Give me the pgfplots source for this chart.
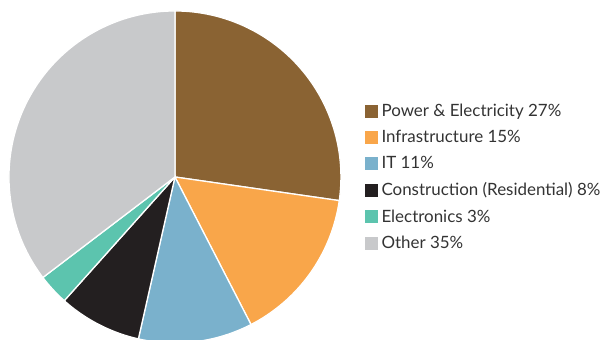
\documentclass[border=0pt]{standalone}
\usepackage{pgfplots}
\pgfplotsset{compat=1.18}
\usepackage{fontspec}
\setmainfont{Lato}
\definecolor{cPow}{HTML}{8A6333}
\definecolor{cInf}{HTML}{F9A64A}
\definecolor{cIT}{HTML}{7AB1CC}
\definecolor{cCon}{HTML}{231F20}
\definecolor{cEle}{HTML}{5CC4AE}
\definecolor{cOth}{HTML}{C8C9CB}
\definecolor{cTxt}{HTML}{333333}
% shares in percent
\def\vPow{27}\def\vInf{15}\def\vIT{11}\def\vCon{8}\def\vEle{3}\def\vOth{35}
\pgfmathsetmacro\total{\vPow+\vInf+\vIT+\vCon+\vEle+\vOth}
\pgfmathsetmacro\aA{90}
\pgfmathsetmacro\aB{\aA-360*\vPow/\total}
\pgfmathsetmacro\aC{\aB-360*\vInf/\total}
\pgfmathsetmacro\aD{\aC-360*\vIT/\total}
\pgfmathsetmacro\aE{\aD-360*\vCon/\total}
\pgfmathsetmacro\aF{\aE-360*\vEle/\total}
\pgfmathsetmacro\aG{\aF-360*\vOth/\total}
\begin{document}
\begin{tikzpicture}
\begin{axis}[
  hide axis, scale only axis,
  width=611bp, height=340bp,
  xmin=-1.054, xmax=2.627, ymin=-0.982, ymax=1.066,
  clip=true,
  legend style={at={(axis cs:1.125,0.458)}, anchor=north west, draw=none, fill=none,
    font=\fontsize{17}{20}\selectfont\color{cTxt}, row sep=10.4bp,
    nodes={inner sep=1bp}},
  legend cell align=left,
  legend image code/.code={\fill[#1,draw=none] (0bp,-6.5bp) rectangle (13bp,6.5bp); \path (15bp,0bp);},
]
\addplot[fill=cPow, draw=white, line width=1.3pt, domain=\aB:\aA, samples=80] ({cos(x)},{sin(x)}) -- (axis cs:0,0) -- cycle;
\addlegendentry{Power \& Electricity 27\%}
\addplot[fill=cInf, draw=white, line width=1.3pt, domain=\aC:\aB, samples=60] ({cos(x)},{sin(x)}) -- (axis cs:0,0) -- cycle;
\addlegendentry{Infrastructure 15\%}
\addplot[fill=cIT, draw=white, line width=1.3pt, domain=\aD:\aC, samples=50] ({cos(x)},{sin(x)}) -- (axis cs:0,0) -- cycle;
\addlegendentry{IT 11\%}
\addplot[fill=cCon, draw=white, line width=1.3pt, domain=\aE:\aD, samples=40] ({cos(x)},{sin(x)}) -- (axis cs:0,0) -- cycle;
\addlegendentry{Construction (Residential) 8\%}
\addplot[fill=cEle, draw=white, line width=1.3pt, domain=\aF:\aE, samples=20] ({cos(x)},{sin(x)}) -- (axis cs:0,0) -- cycle;
\addlegendentry{Electronics 3\%}
\addplot[fill=cOth, draw=white, line width=1.3pt, domain=\aG:\aF, samples=100] ({cos(x)},{sin(x)}) -- (axis cs:0,0) -- cycle;
\addlegendentry{Other 35\%}
\end{axis}
\pgfresetboundingbox
\path (current axis.south west) rectangle (current axis.north east);
\end{tikzpicture}
\end{document}
